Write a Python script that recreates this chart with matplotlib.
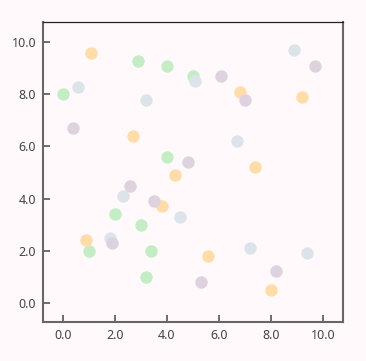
import matplotlib
matplotlib.use('Agg')
import matplotlib.pyplot as plt
from matplotlib.ticker import FormatStrFormatter

plt.rcParams['font.family'] = ['Noto Sans', 'DejaVu Sans']

# four groups of points
green_x = [0.0, 2.9, 4.0, 4.0, 5.0, 2.0, 3.0, 1.0, 3.4, 3.2]
green_y = [8.0, 9.3, 9.1, 5.6, 8.7, 3.4, 3.0, 2.0, 2.0, 1.0]
orange_x = [1.1, 2.7, 4.3, 6.8, 9.2, 7.4, 3.8, 0.9, 5.6, 8.0]
orange_y = [9.6, 6.4, 4.9, 8.1, 7.9, 5.2, 3.7, 2.4, 1.8, 0.5]
blue_x = [0.6, 3.2, 8.9, 5.1, 6.7, 2.3, 4.5, 1.8, 7.2, 9.4]
blue_y = [8.3, 7.8, 9.7, 8.5, 6.2, 4.1, 3.3, 2.5, 2.1, 1.9]
purple_x = [0.4, 4.8, 9.7, 6.1, 7.0, 2.6, 3.5, 1.9, 8.2, 5.3]
purple_y = [6.7, 5.4, 9.1, 8.7, 7.8, 4.5, 3.9, 2.3, 1.2, 0.8]

bg = '#fff9fc'
fig = plt.figure(figsize=(3.66, 3.61), dpi=100, facecolor=bg)
ax = fig.add_axes([43/366, 1 - 322/361, 300/366, 300/361])
ax.set_facecolor(bg)

ax.scatter(green_x, green_y, s=80, color='#c4edc5', linewidths=0, zorder=3)
ax.scatter(orange_x, orange_y, s=80, color='#ffdca8', linewidths=0, zorder=3)
ax.scatter(blue_x, blue_y, s=80, color='#dce4ea', linewidths=0, zorder=3)
ax.scatter(purple_x, purple_y, s=80, color='#ded2df', linewidths=0, zorder=3)

ax.set_xlim(-0.76, 10.78)
ax.set_ylim(-0.74, 10.78)
ax.set_xticks([0, 2, 4, 6, 8, 10])
ax.set_yticks([0, 2, 4, 6, 8, 10])
ax.xaxis.set_major_formatter(FormatStrFormatter('%.1f'))
ax.yaxis.set_major_formatter(FormatStrFormatter('%.1f'))
ax.tick_params(direction='in', length=5, width=1.2, color='#555555',
               labelsize=9, labelcolor='#444444', pad=5)

for side in ['left', 'bottom', 'right']:
    ax.spines[side].set_color('#666666')
    ax.spines[side].set_linewidth(1.5)
ax.spines['top'].set_color('#222222')
ax.spines['top'].set_linewidth(0.9)

plt.savefig('out.png', dpi=100, facecolor=bg)
